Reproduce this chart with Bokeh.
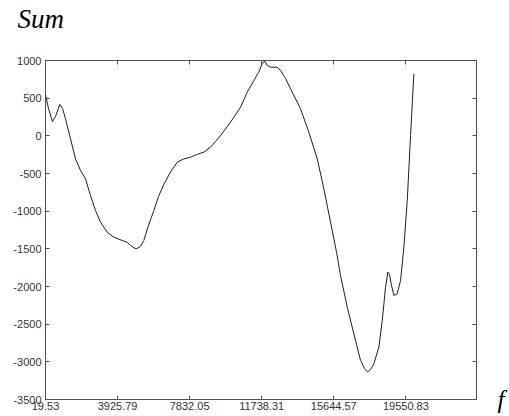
from bokeh.plotting import figure
from bokeh.models import Range1d, LinearAxis, FixedTicker, Title
from bokeh.embed import file_html
from bokeh.resources import INLINE

# ---- data ----
freq = [19.5, 182, 399, 562, 795, 941, 1104, 1375, 1646, 1917, 2188, 2459, 2730,
        3001, 3364, 3722, 4177, 4448, 4627, 4926, 5169, 5348, 5603, 5890, 6145,
        6432, 6795, 7159, 7500, 7880, 8205, 8601, 8964, 9235, 9506, 10048, 10590,
        10954, 11312, 11567, 11767, 11892, 12038, 12217, 12580, 12759, 13030,
        13301, 13843, 14293, 14748, 15106, 15469, 15795, 16011, 16375, 16732,
        17096, 17312, 17475, 17637, 17816, 18087, 18272, 18451, 18576, 18668,
        18750, 18901, 19085, 19264, 19443, 19627, 19806, 19985]
amp = [549, 363, 190, 257, 416, 363, 226, -39, -305, -460, -570, -792, -991,
       -1146, -1279, -1345, -1389, -1412, -1456, -1502, -1469, -1389, -1190, -991, -805,
       -646, -480, -350, -307, -284, -248, -217, -151, -75, 4, 181, 380,
       579, 735, 841, 956, 993, 934, 911, 911, 867, 761,
       624, 359, 48, -305, -703, -1146, -1545, -1854, -2275, -2628,
       -2982, -3088, -3135, -3102, -3026, -2806, -2451, -2009, -1810, -1841,
       -1960, -2119, -2097, -1920, -1478, -858, 4, 823]

x_ticks = [19.53, 3925.79, 7832.05, 11738.31, 15644.57, 19550.83]
x_tick_labels = ["19.53", "3925.79", "7832.05", "11738.31", "15644.57", "19550.83"]
y_ticks = [-3500, -3000, -2500, -2000, -1500, -1000, -500, 0, 500, 1000]
y_tick_labels = ["-3500", "-3000", "-2500", "-2000", "-1500", "-1000", "-500", "0", "500", "1000"]
title_text = "Sum"
x_label_text = "f"

AX = "#505050"
TXT = "#333333"

p = figure(width=509, height=416, output_backend="svg", toolbar_location=None,
           x_range=Range1d(19.53, 23380), y_range=Range1d(-3500, 1000),
           x_axis_type=None, y_axis_type=None,
           min_border_left=45, min_border_right=33, min_border_top=60, min_border_bottom=17)
p.outline_line_color = AX
p.background_fill_color = "white"
p.border_fill_color = "white"

p.line(freq, amp, line_color="#1e1e1e", line_width=1)


def make_axis(ticks, overrides):
    ax = LinearAxis(ticker=FixedTicker(ticks=ticks))
    ax.major_label_overrides = overrides
    ax.major_tick_in = 4
    ax.major_tick_out = 0
    ax.minor_tick_line_color = None
    ax.axis_line_color = AX
    ax.major_tick_line_color = AX
    ax.major_label_text_font = "Liberation Sans"
    ax.major_label_text_font_size = "11px"
    ax.major_label_text_color = TXT
    return ax


bx = make_axis(x_ticks, {t: s for t, s in zip(x_ticks, x_tick_labels)})
bx.major_label_standoff = 2
p.add_layout(bx, "below")

# top axis: inward ticks only; its blank labels leave room so the title sits higher
tx = make_axis(x_ticks, {t: " " for t in x_ticks})
tx.major_label_standoff = 12
p.add_layout(tx, "above")

ly = make_axis(y_ticks, {t: s for t, s in zip(y_ticks, y_tick_labels)})
ly.major_label_standoff = 4
p.add_layout(ly, "left")

# right axis: inward ticks, only the italic "f" as a label at the bottom corner
r_over = {t: "" for t in y_ticks}
r_over[y_ticks[0]] = x_label_text
ry = make_axis(y_ticks, r_over)
ry.major_label_standoff = 21
ry.major_label_text_font = "Liberation Serif"
ry.major_label_text_font_style = "italic"
ry.major_label_text_font_size = "25px"
ry.major_label_text_color = "black"
p.add_layout(ry, "right")

p.add_layout(Title(text=title_text, align="left", offset=-28, standoff=0,
                   text_font="Liberation Serif", text_font_style="italic",
                   text_font_size="27px", text_color="black"), "above")

open("out.html", "w").write(file_html(p, INLINE))
